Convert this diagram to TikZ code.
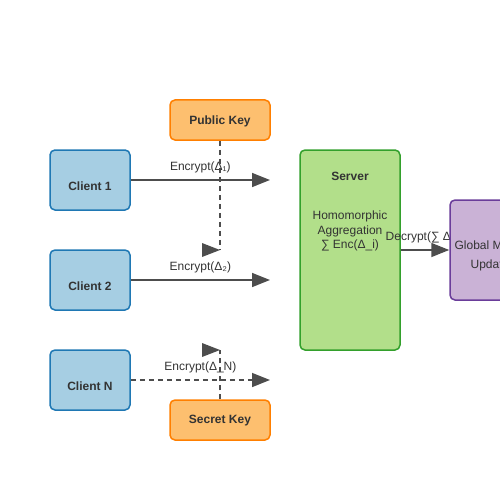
\documentclass[tikz,border=0pt]{standalone}
\usepackage{fontspec}
\setmainfont{Liberation Sans}
\usepackage{xcolor}
\usepackage{tikz}
\usetikzlibrary{
  arrows.meta,
  positioning,
  calc}
\definecolor{clientfill}{HTML}{A6CEE3}
\definecolor{clientdraw}{HTML}{1F78B4}
\definecolor{keyfill}{HTML}{FDBF6F}
\definecolor{keydraw}{HTML}{FF7F00}
\definecolor{serverfill}{HTML}{B2DF8A}
\definecolor{serverdraw}{HTML}{33A02C}
\definecolor{modelfill}{HTML}{CAB2D6}
\definecolor{modeldraw}{HTML}{6A3D9A}
\definecolor{linegray}{HTML}{4D4D4D}
\definecolor{textgray}{HTML}{333333}
\tikzset{every picture/.style={font issue=\fontsize{12}{14.5}},
         font issue/.style={execute at begin picture={#1\selectfont}}
        }
\pgfdeclarelayer{front}
\pgfsetlayers{main,front}

\begin{document}
\begin{tikzpicture}[x=1pt, y=-1pt,
  box/.style={rounded corners=5pt, line width=1.5pt},
  client/.style={box, draw=clientdraw, fill=clientfill, minimum width=80pt, minimum height=60pt},
  keybox/.style={box, draw=keydraw, fill=keyfill, minimum width=100pt, minimum height=40pt},
  server/.style={box, draw=serverdraw, fill=serverfill, minimum width=100pt, minimum height=200pt},
  gmodel/.style={box, draw=modeldraw, fill=modelfill, minimum width=80pt, minimum height=100pt},
  txt/.style={text=textgray, inner sep=1pt},
  btxt/.style={txt, font=\bfseries},
  flow/.style={draw=linegray, line width=1.5pt, -{Triangle[length=18pt, width=14pt]}},
  keyline/.style={draw=linegray, line width=1.5pt, dash pattern=on 5pt off 4pt}]

\useasboundingbox (0,0) rectangle (500,500);

%clients
\node[client] (c1) at (90,180) {};
\node[client] (c2) at (90,280) {};
\node[client] (cN) at (90,380) {};
\node[btxt] at (90,186) {Client 1};
\node[btxt] at (90,286) {Client 2};
\node[btxt] at (90,386) {Client N};

%keys
\node[keybox] (pk) at (220,120) {};
\node[keybox] (sk) at (220,420) {};
\node[btxt] at (220,121) {Public Key};
\node[btxt] at (220,421) {Secret Key};

%server
\node[server] (srv) at (350,250) {};
\node[btxt] at (350,176) {Server};
\node[txt, align=center] at (350,231) {Homomorphic\\[0pt]Aggregation\\[0pt]∑ Enc(Δ\_i)};

%global model, drawn over the decrypt label
\begin{pgfonlayer}{front}
\node[gmodel] (gm) at (490,250) {};
\node[txt, align=center] at (490,256) {Global Model\\[5pt]Update};
\end{pgfonlayer}

\coordinate (e1) at (270,180);
\coordinate (e2) at (270,280);
\coordinate (eN) at (270,380);
\coordinate (pkend) at (220,250);
\coordinate (skend) at (220,350);

\draw[flow] (c1) -- (e1) node[midway, above=5pt, txt]{Encrypt(Δ₁)};
\draw[flow] (c2) -- (e2) node[midway, above=5pt, txt]{Encrypt(Δ₂)};
\draw[flow, dash pattern=on 5pt off 4pt] (cN) -- (eN) node[midway, above=5pt, txt]{Encrypt(Δ\_N)};

\draw[flow] (srv) -- (gm) node[midway, above=5pt, txt]{Decrypt(∑ Δ\_i)};

\draw[keyline] (pk) -- (pkend);
\draw[keyline] (sk) -- (skend);
\fill[linegray] (pkend) -- ++(-18,-7) -- ++(0,14) -- cycle;
\fill[linegray] (skend) -- ++(-18,-7) -- ++(0,14) -- cycle;

\end{tikzpicture}
\end{document}
